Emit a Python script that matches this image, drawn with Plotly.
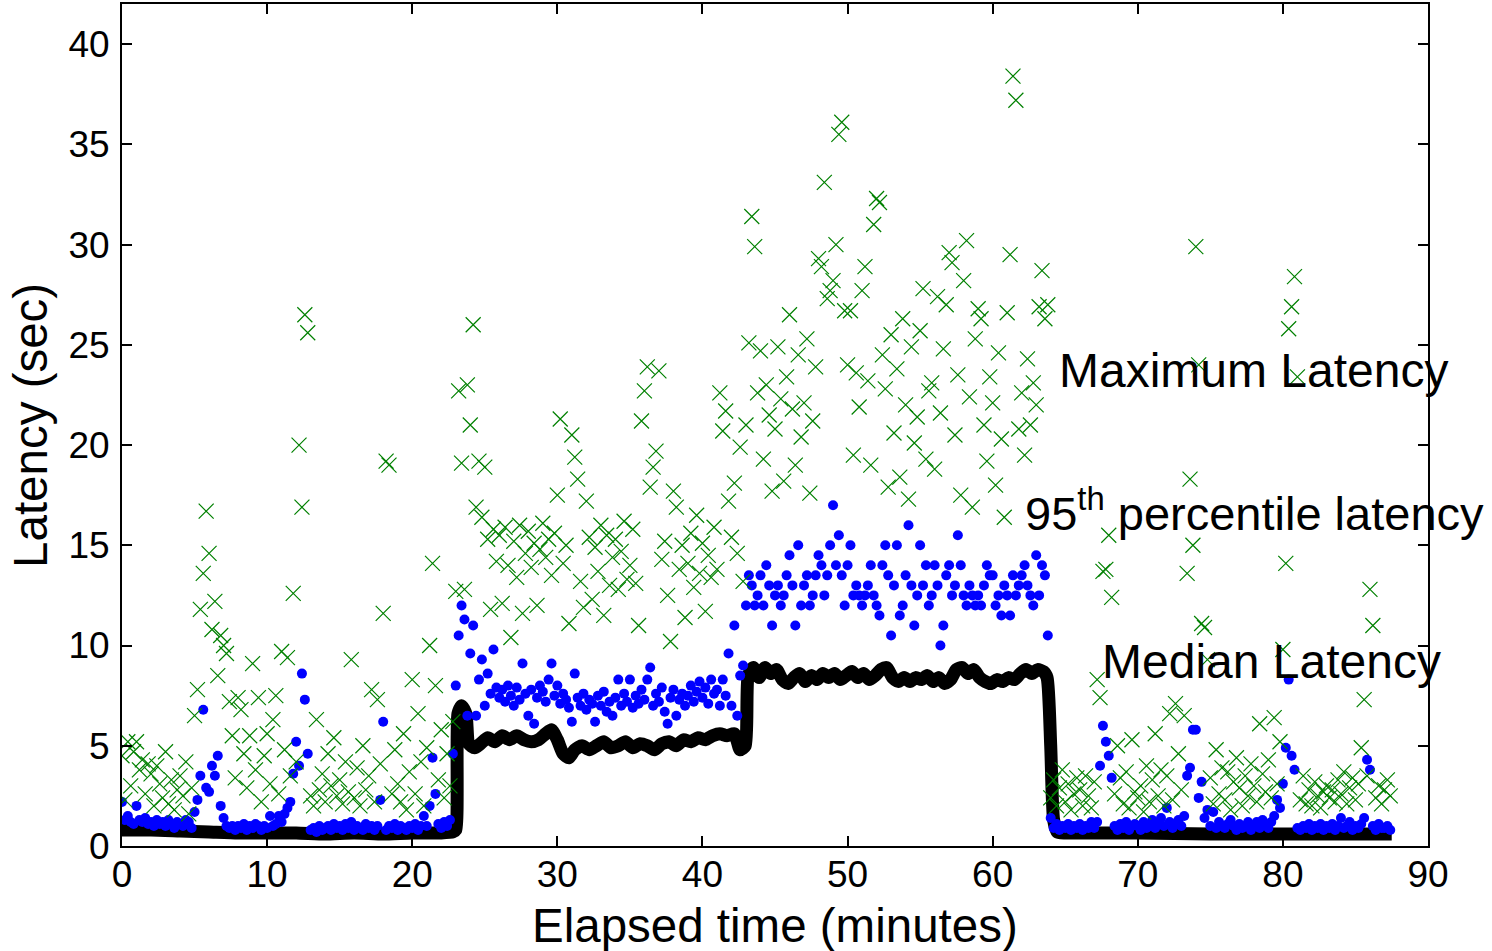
import plotly.graph_objects as go

# ---------------- data ----------------
STEP = 0.2  # sample spacing in minutes
sample_minutes = [round(i * STEP, 1) for i in range(438)]  # 0.0 ... 87.4

# 95th percentile latency (sec), 5 samples per minute
p95_latency = [
    2.2, 1.3, 1.5, 1.2, 1.1,  2.0, 1.3, 1.2, 1.4, 1.1,   # 0-1
    1.2, 1.0, 1.3, 1.1, 1.2,  1.0, 1.3, 1.1, 0.9, 1.2,   # 2-3
    1.1, 1.0, 1.3, 1.2, 0.9,  1.7, 2.3, 3.5, 6.8, 2.9,   # 4-5
    2.7, 4.0, 3.5, 4.5, 2.0,  1.4, 1.0, 0.9, 1.0, 0.8,   # 6-7
    1.0, 0.9, 1.1, 0.8, 1.0,  0.9, 1.1, 1.0, 0.8, 1.0,   # 8-9
    0.9, 1.5, 1.0, 1.1, 1.5,  1.2, 1.6, 1.9, 2.2, 3.6,   # 10-11
    5.2, 4.0, 8.6, 7.3, 4.6,  0.8, 0.9, 0.7, 1.0, 0.8,   # 12-13
    0.9, 1.0, 0.8, 1.1, 0.9,  1.0, 0.8, 1.1, 0.9, 1.2,   # 14-15
    0.8, 1.0, 0.9, 0.8, 1.1,  0.9, 1.0, 0.8, 1.0, 2.3,   # 16-17
    6.2, 0.8, 1.0, 0.9, 1.1,  0.8, 1.0, 0.9, 0.8, 1.0,   # 18-19
    0.9, 1.1, 0.8, 1.0, 1.5,  1.0, 2.0, 4.4, 2.6, 1.1,   # 20-21
    0.9, 1.2, 1.0, 1.3, 4.6,  8.0, 10.5, 12.0, 11.3, 6.5,  # 22-23
    9.6, 11.0, 6.5, 8.3, 9.3,  7.0, 8.6, 7.6, 9.8, 7.9,  # 24-25
    7.4, 7.8, 7.2, 8.0, 7.5,  7.0, 7.9, 7.3, 9.1, 7.6,   # 26-27
    6.5, 7.8, 6.1, 7.4, 8.0,  7.7, 7.2, 8.3, 9.1, 7.5,   # 28-29
    8.0, 7.1, 7.6, 7.3, 6.9,  6.2, 8.6, 7.4, 7.0, 7.6,   # 30-31
    6.8, 7.3, 7.1, 6.2, 7.5,  7.0, 7.7, 6.7, 7.2, 6.5,   # 32-33
    7.4, 8.3, 7.0, 7.6, 7.2,  8.3, 6.9, 7.5, 7.1, 7.8,   # 34-35
    7.3, 8.3, 8.9, 7.0, 7.6,  7.2, 7.9, 6.7, 6.1, 7.4,   # 36-37
    7.8, 6.5, 7.3, 7.6, 7.0,  7.5, 8.0, 7.2, 7.7, 8.2,   # 38-39
    7.4, 7.9, 7.1, 8.3, 7.6,  7.8, 7.0, 8.3, 7.5, 9.6,   # 40-41
    7.0, 11.0, 6.5, 8.5, 9.0,  12.0, 13.5, 13.0, 12.0, 12.5,  # 42-43
    13.5, 12.0, 14.0, 13.0, 11.0,  12.5, 13.0, 12.0, 12.5, 13.5,  # 44-45
    14.5, 13.0, 11.0, 15.0, 12.0,  13.0, 13.5, 12.0, 12.5, 13.5,  # 46-47
    14.5, 14.0, 12.5, 13.5, 15.0,  17.0, 14.0, 15.5, 13.5, 12.0,  # 48-49
    14.0, 15.0, 12.5, 13.0, 12.5,  12.0, 12.5, 13.0, 14.0, 12.5,  # 50-51
    12.0, 11.5, 14.0, 15.0, 13.5,  10.5, 13.0, 15.0, 11.5, 12.0,  # 52-53
    13.5, 16.0, 13.0, 11.0, 12.5,  15.0, 13.0, 14.0, 12.0, 12.5,  # 54-55
    14.0, 13.0, 10.0, 11.0, 13.5,  14.0, 12.5, 13.0, 15.5, 14.0,  # 56-57
    12.5, 12.0, 13.0, 12.5, 12.0,  12.5, 12.0, 13.0, 14.0, 13.5,  # 58-59
    13.5, 12.0, 12.5, 11.5, 13.0,  12.5, 11.5, 13.5, 12.5, 13.0,  # 60-61
    13.5, 14.0, 13.0, 12.5, 12.0,  14.5, 12.5, 14.0, 13.5, 10.5,  # 62-63
    1.4, 0.9, 1.1, 0.8, 1.0,  0.9, 1.1, 0.8, 1.0, 0.9,   # 64-65
    1.1, 0.8, 1.0, 0.9, 1.2,  0.9, 1.2, 4.0, 6.0, 5.2,   # 66-67
    4.5, 3.4, 1.0, 0.8, 1.1,  0.9, 1.2, 0.8, 1.0, 1.1,   # 68-69
    1.0, 0.8, 1.2, 0.9, 1.0,  1.3, 0.9, 1.1, 1.4, 1.0,   # 70-71
    1.9, 1.2, 0.9, 1.1, 1.3,  1.0, 1.5, 3.5, 3.9, 5.8,   # 72-73
    5.8, 2.4, 3.2, 1.4, 1.8,  1.0, 1.7, 0.9, 1.2, 1.0,   # 74-75
    0.9, 1.1, 1.3, 1.0, 0.8,  1.1, 0.9, 1.0, 1.2, 0.8,   # 76-77
    1.0, 1.2, 0.9, 1.3, 1.1,  0.9, 1.2, 1.5, 2.3, 1.9,   # 78-79
    3.1, 4.9, 8.3, 4.5, 3.8,  0.9, 0.8, 1.0, 0.9, 1.1,   # 80-81
    0.8, 1.0, 0.9, 1.1, 0.8,  1.0, 0.9, 1.1, 0.8, 1.0,   # 82-83
    1.4, 0.9, 1.0, 1.2, 0.8,  1.0, 0.9, 1.1, 1.4, 4.3,   # 84-85
    3.8, 1.0, 0.8, 1.1, 0.9,  0.9, 1.0, 0.8,             # 86-87.4
]

# Maximum latency (sec), 5 samples per minute
max_latency = [
    4.5, 2.3, 5.2, 3.0, 4.7,  5.2, 3.8, 4.3, 2.6, 4.1,   # 0-1
    3.6, 2.0, 4.0, 3.1, 2.4,  4.7, 2.1, 3.3, 1.8, 2.8,   # 2-3
    3.5, 2.5, 4.2, 1.6, 2.9,  6.5, 7.8, 11.8, 13.6, 16.7,  # 4-5
    14.6, 10.8, 12.2, 8.5, 10.5,  10.0, 9.6, 7.2, 5.5, 3.4,  # 6-7
    7.4, 6.8, 4.6, 2.9, 5.5,  9.1, 3.8, 7.4, 2.2, 4.5,   # 8-9
    5.6, 3.1, 6.3, 7.5, 2.6,  9.7, 4.8, 9.4, 3.5, 12.6,  # 10-11
    4.2, 20.0, 16.9, 26.5, 25.6,  2.5, 2.0, 6.3, 2.8, 3.6,  # 12-13
    2.2, 4.6, 3.0, 5.4, 2.5,  3.3, 2.1, 4.2, 2.7, 9.3,   # 14-15
    2.4, 3.9, 2.0, 5.0, 2.8,  3.5, 7.8, 2.2, 7.3, 4.1,   # 16-17
    11.6, 19.2, 19.0, 2.6, 4.8,  3.1, 2.2, 5.6, 1.8, 3.7,  # 18-19
    8.3, 2.6, 6.6, 4.2, 2.0,  4.9, 10.0, 14.1, 8.0, 3.3,  # 20-21
    5.8, 2.4, 4.6, 3.0, 6.2,  12.7, 22.7, 19.1, 12.8, 23.0,  # 22-23
    21.0, 26.0, 16.9, 19.2, 16.4,  18.9, 15.3, 11.8, 15.8, 14.2,  # 24-25
    15.5, 12.1, 15.9, 14.0, 10.4,  15.2, 13.4, 16.0, 11.6, 14.6,  # 26-27
    15.7, 13.9, 15.1, 12.0, 14.8,  16.1, 14.4, 15.3, 13.5, 15.6,  # 28-29
    17.5, 21.3, 14.1, 15.0, 11.1,  20.5, 19.4, 18.3, 13.2, 11.9,  # 30-31
    17.2, 15.4, 12.3, 14.9, 13.7,  16.0, 11.5, 15.5, 13.0, 14.4,  # 32-33
    15.3, 12.8, 14.7, 16.2, 13.3,  14.0, 15.8, 13.1, 11.0, 21.2,  # 34-35
    22.7, 23.9, 17.9, 18.9, 19.7,  23.7, 14.3, 15.2, 12.5, 10.2,  # 36-37
    17.7, 16.9, 13.8, 15.0, 11.4,  14.1, 15.6, 12.9, 16.5, 13.6,  # 38-39
    15.1, 11.7, 14.5, 13.4, 15.9,  13.8, 22.6, 20.7, 21.7, 17.2,  # 40-41
    15.4, 18.1, 14.6, 19.9, 13.2,  21.0, 25.1, 31.4, 29.9, 22.6,  # 42-43
    24.7, 19.3, 23.0, 21.5, 17.7,  20.8, 24.9, 22.3, 18.2, 23.4,  # 44-45
    26.5, 21.8, 19.0, 24.5, 20.4,  22.1, 25.3, 17.6, 21.2, 23.9,  # 46-47
    29.3, 28.9, 33.1, 27.3, 27.7,  28.2, 30.0, 35.5, 36.1, 26.7,  # 48-49
    24.0, 26.7, 19.5, 23.6, 21.9,  27.7, 28.9, 23.2, 19.0, 31.0,  # 50-51
    32.3, 32.1, 24.5, 22.8, 17.9,  25.5, 20.6, 23.8, 18.4, 26.3,  # 52-53
    22.0, 17.3, 24.9, 20.1, 21.4,  25.7, 27.8, 19.3, 22.7, 23.1,  # 54-55
    18.8, 27.4, 21.6, 24.8, 27.0,  29.6, 29.1, 20.5, 23.5, 17.5,  # 56-57
    28.2, 30.2, 22.4, 16.9, 25.3,  26.8, 26.3, 21.0, 19.2, 23.4,  # 58-59
    22.1, 18.0, 24.6, 20.3, 16.4,  26.6, 29.5, 38.4, 37.2, 20.8,  # 60-61
    22.6, 19.5, 24.3, 21.0, 23.1,  22.0, 26.9, 28.7, 26.3, 27.0,  # 62-63
    2.4, 3.3, 2.0, 2.9, 3.8,  2.2, 3.1, 1.8, 2.6, 3.4,   # 64-65
    2.8, 2.0, 3.5, 2.5, 1.9,  3.2, 8.3, 7.4, 13.7, 13.8,  # 66-67
    15.5, 12.4, 2.6, 5.0, 3.4,  2.1, 3.7, 1.9, 5.3, 2.7,  # 68-69
    2.4, 3.0, 1.7, 4.0, 2.2,  3.3, 5.6, 2.5, 3.8, 2.0,   # 70-71
    3.5, 6.6, 2.3, 7.1, 4.6,  2.8, 6.5, 13.6, 18.3, 15.0,  # 72-73
    29.9, 24.0, 11.1, 10.9, 9.3,  3.4, 2.1, 4.8, 2.6, 3.9,  # 74-75
    2.3, 3.7, 1.8, 3.2, 4.4,  2.9, 2.0, 3.5, 2.5, 4.1,   # 76-77
    3.0, 2.2, 6.1, 3.6, 2.7,  4.3, 2.4, 6.4, 3.1, 5.2,   # 78-79
    9.8, 14.1, 25.8, 26.9, 28.4,  23.4, 2.3, 3.5, 2.1, 2.8,  # 80-81
    2.0, 3.2, 2.5, 1.9, 2.7,  3.0, 2.4, 2.8, 2.2, 3.3,   # 82-83
    2.6, 3.7, 2.1, 2.9, 3.4,  2.3, 3.1, 4.9, 7.3, 3.5,   # 84-85
    12.8, 11.0, 2.4, 3.0, 2.1,  2.8, 3.3, 2.5,           # 86-87.4
]

# Median latency line (sec) at its own read-off times (minutes)
median_minutes = [
    0, 2, 4, 6, 8, 10, 12, 14, 16, 18, 20, 22, 22.8, 23.0,
    23.15, 23.4, 23.7, 23.9, 24.3, 24.7, 25.2, 25.7, 26.2, 26.7, 27.2, 27.7,
    28.2, 28.7, 29.2, 29.6, 30.0, 30.4, 30.8, 31.2, 31.7, 32.2, 32.7, 33.2,
    33.7, 34.2, 34.7, 35.2, 35.7, 36.2, 36.7, 37.2, 37.7, 38.2, 38.7, 39.2,
    39.7, 40.2, 40.7, 41.2, 41.7, 42.2, 42.6, 42.95,
    43.15, 43.5, 43.9, 44.3, 44.7, 45.1, 45.5, 45.9, 46.3, 46.7, 47.1, 47.5,
    47.9, 48.3, 48.7, 49.1, 49.5, 49.9, 50.3, 50.7, 51.1, 51.5, 51.9, 52.3,
    52.7, 53.1, 53.5, 53.9, 54.3, 54.7, 55.1, 55.5, 55.9, 56.3, 56.7, 57.1,
    57.5, 57.9, 58.3, 58.7, 59.1, 59.5, 59.9, 60.3, 60.7, 61.1, 61.5, 61.9,
    62.3, 62.7, 63.1, 63.5, 63.75,
    64.0, 64.2, 64.45, 65, 66, 70, 75, 80, 85, 87.5,
]
median_latency = [
    0.8, 0.8, 0.75, 0.7, 0.65, 0.65, 0.65, 0.6, 0.65, 0.6, 0.65, 0.65, 0.7, 0.8,
    6.6, 7.0, 6.6, 5.1, 4.9, 5.1, 5.4, 5.2, 5.5, 5.3, 5.5, 5.3,
    5.2, 5.3, 5.6, 5.8, 5.3, 4.6, 4.4, 4.8, 5.0, 4.8, 5.0, 5.2,
    4.9, 5.0, 5.2, 4.9, 5.1, 5.0, 4.8, 5.1, 5.2, 5.0, 5.3, 5.2,
    5.4, 5.3, 5.5, 5.6, 5.5, 5.6, 4.8, 5.0,
    8.5, 8.9, 8.4, 8.9, 8.6, 8.8, 8.3, 8.1, 8.4, 8.6, 8.2, 8.5,
    8.3, 8.6, 8.4, 8.6, 8.3, 8.5, 8.7, 8.4, 8.6, 8.3, 8.5, 8.8,
    8.9, 8.4, 8.2, 8.4, 8.2, 8.4, 8.3, 8.5, 8.2, 8.4, 8.1, 8.3,
    8.8, 8.9, 8.6, 8.8, 8.4, 8.2, 8.1, 8.3, 8.2, 8.4, 8.3, 8.6,
    8.8, 8.6, 8.8, 8.7, 8.4,
    5.0, 1.3, 0.7, 0.65, 0.65, 0.65, 0.6, 0.6, 0.6, 0.6,
]

x_ticks = [0, 10, 20, 30, 40, 50, 60, 70, 80, 90]
y_ticks = [0, 5, 10, 15, 20, 25, 30, 35, 40]

FONT = "Liberation Sans, Arial, Helvetica, sans-serif"

fig = go.Figure()

fig.add_trace(go.Scatter(
    x=median_minutes, y=median_latency, mode="lines",
    line=dict(color="black", width=13, shape="spline", smoothing=0.6),
    name="Median Latency", hoverinfo="skip",
))
fig.add_trace(go.Scatter(
    x=sample_minutes, y=p95_latency, mode="markers",
    marker=dict(symbol="circle", size=10, color="#0000ff", line=dict(width=0)),
    name="95th percentile latency",
))
fig.add_trace(go.Scatter(
    x=sample_minutes, y=max_latency, mode="markers",
    marker=dict(symbol="x-thin", size=15, color="#008000",
                line=dict(color="#008000", width=1.2)),
    name="Maximum Latency",
))

axis_common = dict(
    showgrid=False, zeroline=False, showline=True, linecolor="black",
    linewidth=2, mirror="ticks", ticks="inside", ticklen=10, tickwidth=1.5,
    tickcolor="black", tickfont=dict(family=FONT, size=37, color="black"),
)

fig.update_xaxes(range=[0, 90], tickvals=x_ticks, ticklabelstandoff=-5,
                 **axis_common)
fig.update_yaxes(range=[0, 42], tickvals=y_ticks, ticklabelstandoff=3,
                 **axis_common)

ann_font = dict(family=FONT, size=48, color="black")
p95_font = dict(family=FONT, size=47, color="black")
title_font = dict(family=FONT, size=47.5, color="black")
fig.update_layout(
    width=1492, height=951,
    margin=dict(l=122, r=64, t=2, b=105),
    paper_bgcolor="white", plot_bgcolor="white",
    showlegend=False,
    annotations=[
        dict(text="Maximum Latency", x=64.4, y=23.7, xref="x", yref="y",
             xanchor="left", yanchor="middle", showarrow=False, font=ann_font),
        dict(text="95<sup>th</sup> percentile latency", x=62.1, y=16.75,
             xref="x", yref="y", xanchor="left", yanchor="middle",
             showarrow=False, font=p95_font),
        dict(text="Median Latency", x=67.4, y=9.2, xref="x", yref="y",
             xanchor="left", yanchor="middle", showarrow=False, font=ann_font),
        dict(text="Elapsed time (minutes)", x=0.5, y=-0.095, xref="paper",
             yref="paper", xanchor="center", yanchor="middle",
             showarrow=False, font=title_font),
        dict(text="Latency (sec)", x=-0.0705, y=0.5, xref="paper",
             yref="paper", xanchor="center", yanchor="middle", textangle=-90,
             showarrow=False, font=title_font),
    ],
)

fig.write_html("out.html",
               config={"displayModeBar": False},
               post_script="document.body.style.margin='0';")
